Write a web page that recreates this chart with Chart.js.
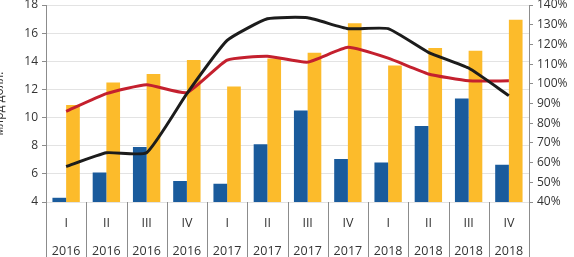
<!DOCTYPE html>
<html lang="ru">
<head>
    <meta charset="UTF-8">
    <title>млрд долл.</title>
    <script src="https://cdn.jsdelivr.net/npm/chart.js"></script>
    <style>
        body {
            margin: 0;
            background: #ffffff;
        }
        .wrap {
            width: 574px;
            height: 257px;
        }
    </style>
</head>
<body>
    <div class="wrap">
        <canvas id="chart" width="574" height="257"></canvas>
    </div>

    <script>
        // quarters and years
        const quarters = ['I', 'II', 'III', 'IV', 'I', 'II', 'III', 'IV', 'I', 'II', 'III', 'IV'];
        const years = ['2016', '2016', '2016', '2016', '2017', '2017', '2017', '2017', '2018', '2018', '2018', '2018'];

        // bars, left axis (млрд долл.)
        const blueBars = [4.3, 6.1, 7.9, 5.5, 5.3, 8.1, 10.5, 7.05, 6.8, 9.4, 11.35, 6.65];
        const yellowBars = [10.9, 12.5, 13.1, 14.1, 12.2, 14.2, 14.6, 16.7, 13.7, 14.95, 14.75, 16.95];

        // lines, right axis (%)
        const blackLine = [58, 65, 65, 95, 122, 133, 133.5, 128, 128, 116, 108, 94];
        const redLine = [86, 95, 99.5, 95.5, 112, 114, 111, 118.5, 113, 105, 101.5, 101.5];

        const labels = quarters.map((q, i) => [q, years[i]]);

        // vertical separators between the categories, down through the label area
        const separators = {
            id: 'separators',
            afterDraw(chart) {
                const x = chart.scales.x;
                const ctx = chart.ctx;
                ctx.save();
                ctx.strokeStyle = '#8c8c8c';
                ctx.lineWidth = 1;
                for (let i = 0; i <= labels.length; i++) {
                    const px = Math.round(x.getPixelForValue(i - 0.5)) + 0.5;
                    ctx.beginPath();
                    ctx.moveTo(px, x.top);
                    ctx.lineTo(px, chart.height);
                    ctx.stroke();
                }
                ctx.restore();
            }
        };

        const tickFont = { family: 'Open Sans', size: 12 };

        // let the top label hang over the edge like in the original
        const noVertPad = s => { s.paddingTop = 0; s.paddingBottom = 0; };

        new Chart(document.getElementById('chart').getContext('2d'), {
            data: {
                labels: labels,
                datasets: [
                    {
                        type: 'line',
                        data: blackLine,
                        yAxisID: 'y1',
                        borderColor: '#1c1c1c',
                        borderWidth: 3,
                        pointRadius: 0,
                        tension: 0.15,
                        order: 0
                    },
                    {
                        type: 'line',
                        data: redLine,
                        yAxisID: 'y1',
                        borderColor: '#c4202e',
                        borderWidth: 3,
                        pointRadius: 0,
                        tension: 0.15,
                        order: 1
                    },
                    {
                        type: 'bar',
                        data: blueBars,
                        yAxisID: 'y',
                        backgroundColor: '#1a5b9c',
                        barPercentage: 1,
                        categoryPercentage: 0.68,
                        order: 2
                    },
                    {
                        type: 'bar',
                        data: yellowBars,
                        yAxisID: 'y',
                        backgroundColor: '#fcbb2b',
                        barPercentage: 1,
                        categoryPercentage: 0.68,
                        order: 3
                    }
                ]
            },
            options: {
                responsive: false,
                animation: false,
                layout: { padding: { top: 5, right: 0, left: 0, bottom: 0 } },
                plugins: {
                    legend: { display: false },
                    tooltip: { enabled: false }
                },
                scales: {
                    x: {
                        offset: true,
                        grid: { display: false, drawTicks: false },
                        border: { display: false },
                        ticks: {
                            color: '#333333',
                            font: { family: 'Open Sans', size: 12.5, lineHeight: 2.2 },
                            maxRotation: 0,
                            autoSkip: false,
                            padding: 8
                        },
                        afterFit: s => { s.height = 55; }
                    },
                    y: {
                        position: 'left',
                        min: 4,
                        max: 18,
                        title: {
                            display: true,
                            text: 'млрд долл.',
                            color: '#333333',
                            font: { family: 'Open Sans', size: 12 },
                            padding: { top: -8, bottom: 0 }
                        },
                        ticks: { stepSize: 2, color: '#333333', font: tickFont, padding: 4 },
                        grid: { color: '#e3e3e3', tickLength: 4, tickColor: '#8c8c8c' },
                        border: { color: '#8c8c8c' },
                        afterFit: s => { s.width = 46; noVertPad(s); }
                    },
                    y1: {
                        position: 'right',
                        min: 40,
                        max: 140,
                        ticks: {
                            stepSize: 10,
                            color: '#333333',
                            font: tickFont,
                            padding: 4,
                            callback: v => v + '%'
                        },
                        grid: { drawOnChartArea: false, tickLength: 4, tickColor: '#8c8c8c' },
                        border: { color: '#8c8c8c' },
                        afterFit: s => { s.width = 45; noVertPad(s); }
                    }
                }
            },
            plugins: [separators]
        });
    </script>
</body>
</html>
